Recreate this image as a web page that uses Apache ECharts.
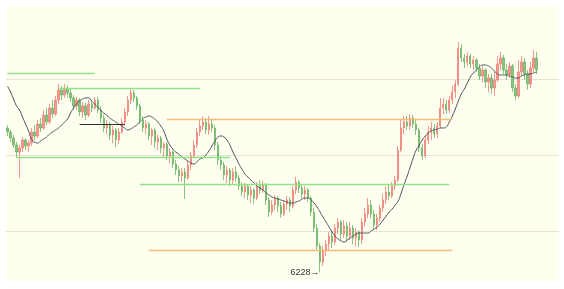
<!DOCTYPE html>
<html><head><meta charset="utf-8">
<script src="https://cdn.jsdelivr.net/npm/echarts@6/dist/echarts.min.js"></script>
<style>html,body{margin:0;padding:0;background:#fff}#c{width:564px;height:289px}</style>
</head><body><div id="c"></div>
<script>
// [open, close, lowest, highest]
const candles = [
[6950,6930,6910,6965],[6930,6900,6880,6940],[6900,6865,6850,6915],[6865,6830,6800,6880],[6830,6850,6700,6865],
[6850,6890,6830,6905],[6890,6860,6840,6900],[6860,6875,6830,6890],[6875,6930,6860,6950],[6930,6910,6890,6965],
[6910,6970,6900,6990],[6970,6950,6930,7000],[6950,7015,6940,7040],[7015,6980,6965,7050],[6980,7050,6970,7070],
[7050,7020,7000,7090],[7020,7090,7010,7110],[7090,7140,7070,7170],[7140,7115,7090,7160],[7115,7150,7100,7170],
[7150,7125,7105,7165],[7125,7100,7080,7150],[7100,7060,7040,7115],[7060,7090,7040,7105],[7090,7030,7010,7100],
[7030,7060,7000,7080],[7060,7015,6990,7075],[7015,7070,7005,7090],[7070,7050,7030,7090],[7050,7090,7040,7105],
[7090,7040,7025,7105],[7040,7000,6975,7060],[7000,6950,6930,7015],[6950,6970,6920,6990],[6970,6915,6890,6980],
[6915,6940,6875,6960],[6940,6890,6855,6950],[6890,6930,6870,6950],[6930,6980,6920,7000],[6980,7030,6960,7050],
[7030,7090,7010,7110],[7090,7125,7070,7145],[7125,7100,7080,7140],[7100,7060,7040,7110],[7060,6990,6970,7070],
[6990,6950,6930,7010],[6950,6970,6920,6990],[6970,6910,6890,6980],[6910,6940,6865,6950],[6940,6880,6850,6950],
[6880,6900,6840,6915],[6900,6850,6825,6910],[6850,6870,6800,6880],[6870,6810,6790,6880],[6810,6830,6775,6850],
[6830,6770,6750,6840],[6770,6740,6715,6790],[6740,6710,6680,6760],[6710,6730,6680,6750],[6730,6700,6595,6750],
[6700,6765,6690,6790],[6765,6810,6740,6830],[6810,6865,6800,6890],[6865,6930,6850,6950],[6930,6960,6910,6990],
[6960,6980,6940,7010],[6980,6940,6920,7000],[6940,6970,6915,7010],[6970,6950,6930,6990],[6950,6865,6840,6965],
[6865,6790,6765,6880],[6790,6765,6740,6810],[6765,6715,6690,6780],[6715,6740,6675,6760],[6740,6690,6660,6750],
[6690,6730,6670,6750],[6730,6700,6680,6760],[6700,6660,6640,6715],[6660,6630,6610,6680],[6630,6660,6600,6675],
[6660,6615,6590,6670],[6615,6640,6575,6660],[6640,6600,6570,6650],[6600,6660,6590,6680],[6660,6640,6620,6690],
[6640,6665,6625,6685],[6665,6590,6565,6675],[6590,6530,6505,6605],[6530,6565,6515,6590],[6565,6600,6540,6615],
[6600,6560,6530,6610],[6560,6520,6500,6580],[6520,6570,6510,6590],[6570,6590,6540,6610],[6590,6560,6530,6605],
[6560,6640,6550,6660],[6640,6680,6620,6705],[6680,6650,6625,6690],[6650,6620,6600,6665],[6620,6640,6590,6660],
[6640,6600,6580,6650],[6600,6530,6510,6610],[6530,6450,6430,6550],[6450,6360,6340,6470],[6360,6280,6228,6375],
[6280,6340,6260,6360],[6340,6370,6310,6390],[6370,6410,6340,6430],[6410,6380,6350,6440],[6380,6450,6365,6470],
[6450,6480,6420,6500],[6480,6420,6390,6490],[6420,6460,6400,6490],[6460,6410,6380,6480],[6410,6450,6390,6480],
[6450,6400,6370,6465],[6400,6430,6360,6450],[6430,6390,6355,6440],[6390,6480,6370,6500],[6480,6520,6460,6550],
[6520,6565,6500,6600],[6565,6520,6500,6590],[6520,6465,6440,6540],[6465,6500,6440,6520],[6500,6550,6480,6565],
[6550,6590,6530,6620],[6590,6630,6570,6660],[6630,6610,6590,6670],[6610,6660,6600,6680],[6660,6690,6640,6710],
[6690,6840,6680,6860],[6840,6950,6830,6990],[6950,6980,6920,7010],[6980,6960,6940,7010],[6960,7000,6940,7020],
[7000,6970,6950,7015],[6970,6940,6915,6990],[6940,6850,6830,6950],[6850,6810,6790,6870],[6810,6890,6800,6915],
[6890,6930,6870,6960],[6930,6950,6890,6980],[6950,6920,6900,6970],[6920,6960,6900,6980],[6960,7050,6950,7100],
[7050,7070,7020,7100],[7070,7040,7020,7090],[7040,7090,7025,7110],[7090,7130,7070,7160],[7130,7170,7100,7190],
[7170,7350,7160,7380],[7350,7300,7280,7370],[7300,7280,7250,7320],[7280,7310,7260,7330],[7310,7270,7250,7320],
[7270,7290,7240,7310],[7290,7250,7230,7300],[7250,7210,7190,7270],[7210,7240,7180,7260],[7240,7180,7150,7250],
[7180,7200,7130,7220],[7200,7150,7120,7220],[7150,7190,7110,7230],[7190,7270,7180,7310],[7270,7300,7240,7330],
[7300,7240,7220,7315],[7240,7215,7190,7270],[7215,7260,7200,7280],[7260,7150,7130,7270],[7150,7110,7090,7170],
[7110,7230,7100,7290],[7230,7280,7210,7310],[7280,7220,7190,7300],[7220,7170,7140,7240],[7170,7250,7150,7280],
[7250,7300,7230,7340],[7300,7240,7220,7330]
];

const maValues = [
7160,7130,7095,7060,7040,7005,6970,6935,6895,6880,6875,6885,6895,6905,6920,6930,6940,6950,6965,6980,
6995,7025,7050,7070,7085,7095,7100,7100,7085,7070,7055,7040,7025,7015,7000,6990,6980,6970,6960,6950,
6940,6945,6955,6965,6980,6995,7005,7010,7005,6995,6980,6960,6935,6895,6865,6845,6830,6820,6805,6795,
6785,6775,6770,6780,6795,6800,6815,6835,6860,6885,6905,6910,6905,6890,6865,6830,6800,6770,6745,6720,
6705,6690,6675,6660,6650,6640,6625,6615,6605,6600,6595,6590,6585,6580,6575,6575,6580,6585,6595,6600,
6600,6590,6575,6555,6530,6505,6480,6455,6430,6410,6395,6385,6380,6390,6400,6410,6420,6425,6425,6425,
6425,6435,6445,6455,6470,6490,6510,6530,6545,6565,6585,6625,6670,6710,6755,6800,6840,6865,6890,6910,
6925,6935,6940,6945,6950,6950,6955,6980,7010,7045,7085,7120,7145,7175,7205,7225,7240,7255,7265,7265,
7260,7250,7235,7220,7215,7215,7215,7210,7205,7200,7200,7210,7215,7220,7220,7225,7230
];

// horizontal level lines: [fromIndex, toIndex, value, kind]
const levels = [
  [0, 29, 7225, 'green'],
  [17, 64, 7150, 'green'],
  [24, 39, 6970, 'black'],
  [53, 148, 6995, 'orange'],
  [3, 74, 6805, 'green'],
  [44, 147, 6670, 'green'],
  [47, 148, 6340, 'orange']
];
const gridValues = [7195, 6815, 6435];
const blankSlots = 7;
const yMin = 6185, yMax = 7560;

const levelColors = { green: '#8ee486', orange: '#f5ba78', black: '#333333' };

const cats = [];
for (let i = 0; i < candles.length + blankSlots; i++) cats.push('D' + (i + 1));

const chart = echarts.init(document.getElementById('c'), null, { renderer: 'canvas' });
chart.setOption({
  animation: false,
  grid: { left: 6, right: 5, top: 6, bottom: 8, show: true, backgroundColor: '#fffff0', borderWidth: 0 },
  xAxis: { type: 'category', data: cats, show: false, boundaryGap: true },
  yAxis: { type: 'value', min: yMin, max: yMax, show: false, splitLine: { show: false } },
  series: [
    {
      type: 'line', data: [], silent: true,
      markLine: {
        silent: true, symbol: 'none', z: 1, label: { show: false },
        lineStyle: { color: '#e6e3d6', width: 1, type: 'solid' },
        data: gridValues.map(v => ({ yAxis: v }))
      }
    },
    {
      type: 'candlestick', data: candles, barWidth: 1.8, z: 3,
      itemStyle: { color: '#f07f78', color0: '#6cb567', borderColor: '#f07f78', borderColor0: '#6cb567', borderWidth: 1, opacity: 0.8 },
      markPoint: {
        symbol: 'circle', symbolSize: 1, itemStyle: { color: 'rgba(0,0,0,0)' },
        data: [{ type: 'min', valueDim: 'lowest' }],
        label: { show: true, position: 'left', distance: 0, formatter: p => p.value + '→', color: '#333', fontSize: 9, fontFamily: 'Liberation Sans, DejaVu Sans, sans-serif' }
      },
      markLine: {
        silent: true, symbol: 'none', label: { show: false },
        data: levels.map(l => [
          { coord: [l[0], l[2]], lineStyle: { color: levelColors[l[3]], width: l[3] === 'black' ? 1 : 1.4, type: 'solid' } },
          { coord: [l[1], l[2]] }
        ])
      }
    },
    {
      type: 'line', data: maValues, smooth: true, showSymbol: false, symbol: 'none', z: 4,
      lineStyle: { color: '#4a5563', width: 1 }
    }
  ]
});
</script>
</body></html>
